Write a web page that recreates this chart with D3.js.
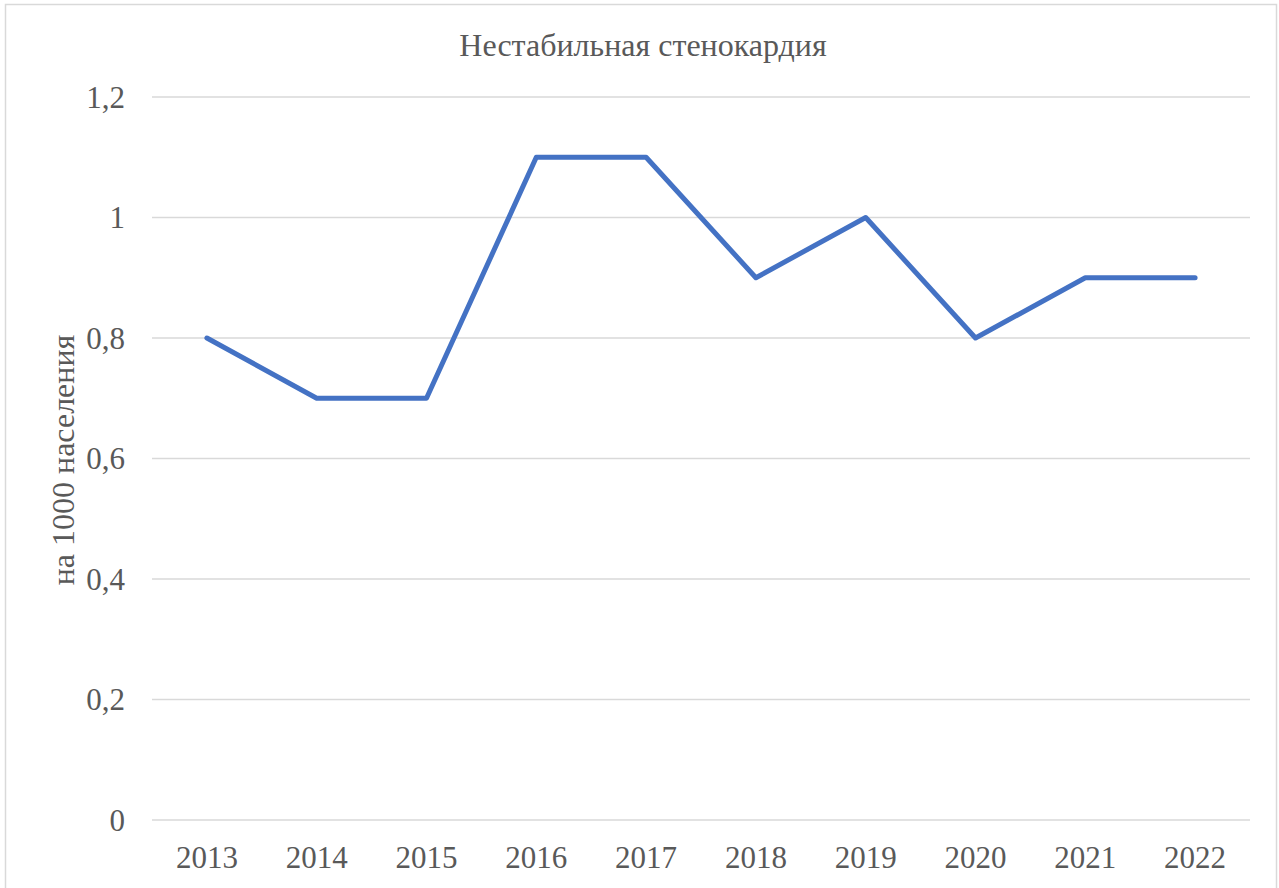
<!DOCTYPE html>
<html>
<head>
<meta charset="utf-8">
<script src="https://cdn.jsdelivr.net/npm/d3@7"></script>
<style>
  html, body { margin: 0; padding: 0; background: #fff; }
  svg { display: block; }
  svg text { font-family: 'Liberation Serif', serif; }
</style>
</head>
<body>
<svg id="chart" width="1279" height="888"></svg>
<script>
// data
const years = ['2013', '2014', '2015', '2016', '2017', '2018', '2019', '2020', '2021', '2022'];
const values = [0.8, 0.7, 0.7, 1.1, 1.1, 0.9, 1.0, 0.8, 0.9, 0.9];
const yTicks = [0, 0.2, 0.4, 0.6, 0.8, 1.0, 1.2];
const title = 'Нестабильная стенокардия';
const yTitle = 'на 1000 населения';

const W = 1279, H = 888;
const m = { t: 97, r: 29, b: 68, l: 152 };
const textColor = '#595959';

const svg = d3.select('#chart');

// chart frame
svg.append('rect').attr('x', 5.5).attr('y', 4.5).attr('width', W - 8).attr('height', H)
  .attr('fill', '#fff').attr('stroke', '#d9d9d9').attr('stroke-width', 1.5);

const x = d3.scaleBand().domain(years).range([m.l, W - m.r]);
const y = d3.scaleLinear().domain([0, 1.2]).range([H - m.b, m.t]);
const fmt = v => d3.format('.1~f')(v).replace('.', ',');

// gridlines
svg.append('g').selectAll('line').data(yTicks).join('line')
  .attr('x1', m.l).attr('x2', W - m.r)
  .attr('y1', d => y(d)).attr('y2', d => y(d))
  .attr('stroke', '#d9d9d9').attr('stroke-width', 1.5);

// y tick labels
svg.append('g').selectAll('text').data(yTicks).join('text')
  .attr('x', 125).attr('y', d => y(d)).attr('dy', '0.35em')
  .attr('text-anchor', 'end').attr('font-size', 31)
  .attr('fill', textColor).text(fmt);

// x tick labels
svg.append('g').selectAll('text').data(years).join('text')
  .attr('x', d => x(d) + x.bandwidth() / 2).attr('y', 868)
  .attr('text-anchor', 'middle').attr('font-size', 31)
  .attr('fill', textColor).text(d => d);

// series line
const line = d3.line().x((d, i) => x(years[i]) + x.bandwidth() / 2).y(d => y(d));
svg.append('path').datum(values).attr('d', line).attr('fill', 'none')
  .attr('stroke', '#4472C4').attr('stroke-width', 5)
  .attr('stroke-linejoin', 'round').attr('stroke-linecap', 'round');

// titles
svg.append('text').attr('x', 643).attr('y', 56).attr('text-anchor', 'middle')
  .attr('font-size', 32).attr('fill', textColor).text(title);

svg.append('text').attr('transform', 'translate(74,460) rotate(-90)')
  .attr('text-anchor', 'middle').attr('font-size', 32)
  .attr('fill', textColor).text(yTitle);
</script>
</body>
</html>
